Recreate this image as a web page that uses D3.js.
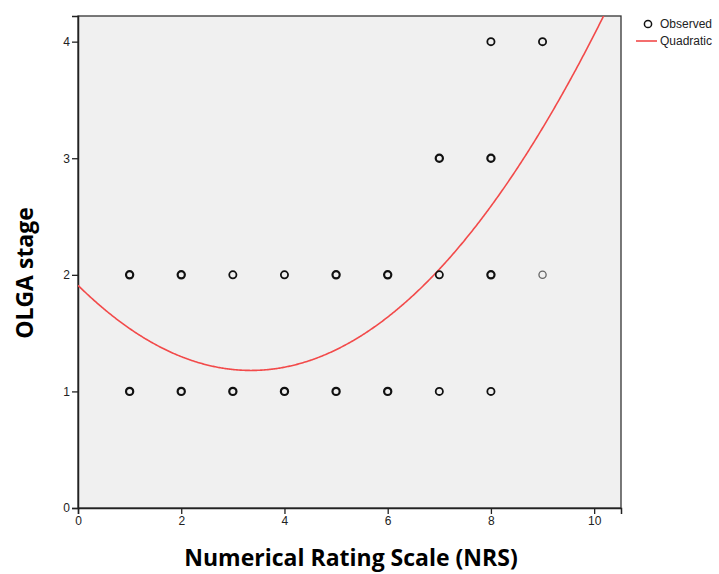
<!DOCTYPE html>
<html><head><meta charset="utf-8">
<script src="https://cdn.jsdelivr.net/npm/d3@7"></script>
<style>body{margin:0;background:#fff}</style>
</head><body><svg id="c" width="719" height="574"></svg>
<script>
// Observed points: NRS (x), OLGA stage (y), approximate case count (overlap weight)
const obsX = [1,2,3,4,5,6,7,8, 1,2,3,4,5,6,7,8,9, 7,8, 8,9];
const obsY = [1,1,1,1,1,1,1,1, 2,2,2,2,2,2,2,2,2, 3,3, 4,4];
const obsN = [3,3,3,3,3,3,2,2, 3,3,2,2,3,3,2,3,1, 3,3, 2,2];
// Quadratic fit coefficients (b0 + b1*x + b2*x^2)
const quadCoef = [1.91, -0.436, 0.0651];
const xTicks = [0,2,4,6,8,10];
const yTicks = [0,1,2,3,4];
const legendLabels = ["Observed","Quadratic"];
const xTitle = "Numerical Rating Scale (NRS)";
const yTitle = "OLGA stage";

const svg = d3.select("#c");
const L = 78, R = 621, T = 16, B = 508;
const x = d3.scaleLinear().domain([0, 10.52]).range([L, R]);
const y = d3.scaleLinear().domain([0, 4.22]).range([B, T]);

svg.append("rect").attr("x", L).attr("y", T).attr("width", R - L).attr("height", B - T)
  .attr("fill", "#f0f0f0").attr("stroke", "#333").attr("stroke-width", 1.3);

const xa = svg.append("g").attr("transform", `translate(0,${B})`)
  .call(d3.axisBottom(x).tickValues(xTicks).tickSize(6).tickPadding(2).tickFormat(d3.format("d")));
const ya = svg.append("g").attr("transform", `translate(${L},0)`)
  .call(d3.axisLeft(y).tickValues(yTicks).tickSize(6).tickPadding(2).tickFormat(d3.format("d")));
[xa, ya].forEach(a => {
  a.select(".domain").attr("stroke", "#222").attr("stroke-width", 1.5);
  a.selectAll(".tick line").attr("stroke", "#222").attr("stroke-width", 1.3);
  a.selectAll("text").attr("font-family", "Arial, 'Liberation Sans', sans-serif")
    .attr("font-size", 12).attr("fill", "#222");
});

// quadratic curve
const f = v => quadCoef[0] + quadCoef[1] * v + quadCoef[2] * v * v;
const xs = d3.range(0, 10.52, 0.02);
svg.append("clipPath").attr("id", "pc").append("rect")
  .attr("x", L).attr("y", T).attr("width", R - L).attr("height", B - T);
svg.append("path").attr("clip-path", "url(#pc)")
  .datum(xs)
  .attr("d", d3.line().x(d => x(d)).y(d => y(f(d))))
  .attr("fill", "none").attr("stroke", "#f24a4a").attr("stroke-width", 1.6);

// points
svg.append("g").selectAll("circle").data(obsX.map((v, i) => ({x: v, y: obsY[i], n: obsN[i]})))
  .join("circle")
  .attr("cx", d => x(d.x)).attr("cy", d => y(d.y)).attr("r", 3.6)
  .attr("fill", "none")
  .attr("stroke", d => d.n >= 2 ? "#111" : "#666")
  .attr("stroke-width", d => d.n >= 3 ? 2.2 : d.n === 2 ? 1.8 : 1.3);

// legend
svg.append("circle").attr("cx", 648).attr("cy", 24).attr("r", 3.6)
  .attr("fill", "none").attr("stroke", "#111").attr("stroke-width", 1.5);
svg.append("line").attr("x1", 636).attr("x2", 657).attr("y1", 41).attr("y2", 41)
  .attr("stroke", "#f24a4a").attr("stroke-width", 1.6);
svg.selectAll("text.leg").data(legendLabels).join("text").attr("class", "leg")
  .attr("x", 660).attr("y", (d, i) => 28 + i * 17)
  .attr("font-family", "Arial, 'Liberation Sans', sans-serif").attr("font-size", 12).attr("fill", "#222")
  .text(d => d);

// titles
svg.append("text").attr("x", 351).attr("y", 566).attr("text-anchor", "middle")
  .attr("font-family", "'Open Sans', sans-serif").attr("font-weight", "bold").attr("font-size", 23)
  .attr("fill", "#000").text(xTitle);
svg.append("text").attr("transform", "translate(33,273) rotate(-90)").attr("text-anchor", "middle")
  .attr("font-family", "'Open Sans', sans-serif").attr("font-weight", "bold").attr("font-size", 23)
  .attr("fill", "#000").text(yTitle);
</script></body></html>
